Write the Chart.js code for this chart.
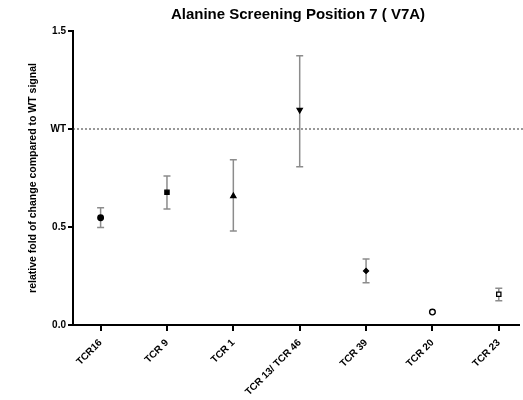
<!DOCTYPE html>
<html>
<head>
<meta charset="utf-8">
<script src="https://cdn.jsdelivr.net/npm/chart.js@4/dist/chart.umd.min.js"></script>
<style>
  html, body { margin: 0; padding: 0; background: #fff; }
  #wrap { width: 523px; height: 400px; }
</style>
</head>
<body>
<div id="wrap"><canvas id="chart" width="523" height="400"></canvas></div>
<script>
// data
const categories = ['TCR16', 'TCR 9', 'TCR 1', 'TCR 13/ TCR 46', 'TCR 39', 'TCR 20', 'TCR 23'];
const meanValues = [0.547, 0.677, 0.658, 1.097, 0.276, 0.066, 0.157];
const upperValues = [0.598, 0.760, 0.843, 1.374, 0.337, 0.070, 0.187];
const lowerValues = [0.498, 0.592, 0.480, 0.808, 0.216, 0.062, 0.124];
const wtValue = 1.0;
const yTicks = [0, 0.5, 1.0, 1.5];
const yTickLabels = ['0.0', '0.5', 'WT', '1.5'];

const markerStyles = ['circle', 'rect', 'triangle', 'triangle', 'rectRot', 'circle', 'rect'];
const markerRotation = [0, 0, 0, 180, 0, 0, 0];
const markerFill = ['#000', '#000', '#000', '#000', '#000', '#fff', '#fff'];
const markerRadius = [2.8, 3, 3, 3, 2.5, 2.8, 3];

const fontFamily = '"Liberation Sans", Arial, sans-serif';

// dotted WT reference line
const wtLine = {
    id: 'wtLine',
    beforeDatasetsDraw(chart) {
        const ctx = chart.ctx;
        const area = chart.chartArea;
        const y = chart.scales.y.getPixelForValue(wtValue);
        ctx.save();
        ctx.strokeStyle = '#333';
        ctx.lineWidth = 1;
        ctx.setLineDash([2, 2]);
        ctx.beginPath();
        ctx.moveTo(area.left, y);
        ctx.lineTo(chart.width, y);
        ctx.stroke();
        ctx.restore();
    }
};

// error bars with caps
const errorBars = {
    id: 'errorBars',
    beforeDatasetsDraw(chart) {
        const ctx = chart.ctx;
        const xs = chart.scales.x;
        const ys = chart.scales.y;
        ctx.save();
        ctx.strokeStyle = '#8c8c8c';
        ctx.lineWidth = 1.5;
        categories.forEach((c, i) => {
            const x = xs.getPixelForValue(i);
            const top = ys.getPixelForValue(upperValues[i]);
            const bot = ys.getPixelForValue(lowerValues[i]);
            ctx.beginPath();
            ctx.moveTo(x, top);
            ctx.lineTo(x, bot);
            ctx.moveTo(x - 3.5, top);
            ctx.lineTo(x + 3.5, top);
            ctx.moveTo(x - 3.5, bot);
            ctx.lineTo(x + 3.5, bot);
            ctx.stroke();
        });
        ctx.restore();
    }
};

// title centred over the plot area
const plotTitle = {
    id: 'plotTitle',
    afterDraw(chart) {
        const ctx = chart.ctx;
        const area = chart.chartArea;
        ctx.save();
        ctx.fillStyle = '#000';
        ctx.font = 'bold 15px ' + fontFamily;
        ctx.textAlign = 'center';
        ctx.textBaseline = 'middle';
        ctx.fillText('Alanine Screening Position 7 ( V7A)', (area.left + chart.width) / 2, 15);
        ctx.restore();
    }
};

const ctx = document.getElementById('chart').getContext('2d');
new Chart(ctx, {
    type: 'scatter',
    data: {
        datasets: [{
            data: meanValues.map((v, i) => ({ x: i, y: v })),
            pointStyle: markerStyles,
            rotation: markerRotation,
            backgroundColor: markerFill,
            borderColor: '#000',
            borderWidth: 1.3,
            pointRadius: markerRadius,
            pointHoverRadius: markerRadius
        }]
    },
    options: {
        responsive: false,
        animation: false,
        layout: { padding: { top: 31, right: 0, left: 0, bottom: 0 } },
        plugins: {
            legend: { display: false },
            tooltip: { enabled: false }
        },
        scales: {
            x: {
                type: 'linear',
                min: -0.416,
                max: 6.30,
                afterBuildTicks: s => { s.ticks = categories.map((c, i) => ({ value: i })); },
                afterFit: s => { s.height = 75; s.paddingRight = 0; },
                border: { color: '#000', width: 2 },
                grid: { drawOnChartArea: false, drawTicks: true, tickLength: 6, color: '#000', lineWidth: 2 },
                ticks: {
                    autoSkip: false,
                    maxRotation: 45,
                    minRotation: 45,
                    padding: 6,
                    color: '#000',
                    font: { family: fontFamily, size: 10, weight: 'bold' },
                    callback: v => categories[v] !== undefined ? categories[v] : ''
                }
            },
            y: {
                min: 0,
                max: 1.5,
                afterBuildTicks: s => { s.ticks = yTicks.map(v => ({ value: v })); },
                afterFit: s => { s.width = 73; },
                border: { color: '#000', width: 2 },
                grid: { drawOnChartArea: false, drawTicks: true, tickLength: 5, color: '#000', lineWidth: 2 },
                ticks: {
                    padding: 2,
                    color: '#000',
                    font: { family: fontFamily, size: 10, weight: 'bold' },
                    callback: v => yTickLabels[yTicks.indexOf(v)]
                },
                title: {
                    display: true,
                    text: 'relative fold of change compared to WT signal',
                    color: '#000',
                    padding: { top: 27, bottom: 0 },
                    font: { family: fontFamily, size: 10.5, weight: 'bold' }
                }
            }
        }
    },
    plugins: [wtLine, errorBars, plotTitle]
});
</script>
</body>
</html>
